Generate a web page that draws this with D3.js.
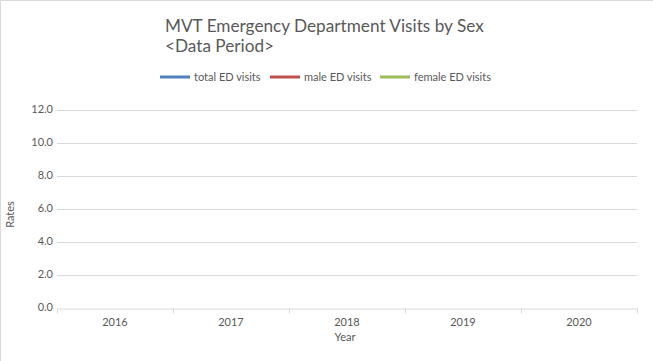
<!DOCTYPE html>
<html><head><meta charset="utf-8">
<script src="https://cdn.jsdelivr.net/npm/d3@7"></script>
<style>
html,body{margin:0;padding:0;background:#fff;}
svg{display:block;font-family:Lato,"Open Sans",sans-serif;}
</style></head>
<body>
<script>
const years = ["2016","2017","2018","2019","2020"];
const totalVisits = [null,null,null,null,null];
const maleVisits = [null,null,null,null,null];
const femaleVisits = [null,null,null,null,null];
const seriesNames = ["total ED visits","male ED visits","female ED visits"];
const seriesColors = ["#4F81BD","#C0504D","#9BBB59"];
const yTicks = [0,2,4,6,8,10,12];

(function(){
const W=653,H=361;
const svg=d3.select("body").append("svg").attr("width",W).attr("height",H);
svg.append("rect").attr("width",W).attr("height",H).attr("fill","#fff");
svg.append("path").attr("d",`M0.5,${H} V0.5 H${W}`).attr("fill","none").attr("stroke","#d9d9d9");

const pL=57,pR=637,pT=109.5,pB=307.5;
const x=d3.scaleBand().domain(years).range([pL,pR]);
const y=d3.scaleLinear().domain([0,12]).range([pB,pT]);

// title
const t=svg.append("text").attr("fill","#595959").attr("font-size",17.2);
t.append("tspan").attr("x",165).attr("y",32).text("MVT Emergency Department Visits by Sex");
t.append("tspan").attr("x",165).attr("y",52).text("<Data Period>");

// legend
const legX=[160,270,380];
seriesNames.forEach((n,i)=>{
  svg.append("line").attr("x1",legX[i]).attr("x2",legX[i]+30).attr("y1",77).attr("y2",77)
    .attr("stroke",seriesColors[i]).attr("stroke-width",3);
  svg.append("text").attr("x",legX[i]+34).attr("y",81).attr("font-size",11).attr("fill","#595959").text(n);
});

// grid
svg.append("g").selectAll("line").data(yTicks.filter(d=>d>0)).join("line")
  .attr("x1",pL).attr("x2",pR).attr("y1",d=>Math.round(y(d))+0.5).attr("y2",d=>Math.round(y(d))+0.5)
  .attr("stroke","#d9d9d9");

// y axis labels
const ya=svg.append("g").attr("transform",`translate(${pL},-0.5)`)
  .call(d3.axisLeft(y).tickValues(yTicks).tickFormat(d3.format(".1f")).tickSize(0).tickPadding(4));
ya.select(".domain").remove();
ya.selectAll("text").attr("fill","#595959").attr("font-size",11).attr("font-family","Lato,sans-serif");

// x axis
const xa=svg.append("g").attr("transform",`translate(0,${Math.round(pB)+0.5})`)
  .call(d3.axisBottom(x).tickSize(0).tickPadding(10));
xa.select(".domain").attr("stroke","#d9d9d9");
xa.selectAll("text").attr("fill","#595959").attr("font-size",11).attr("font-family","Lato,sans-serif");
const bounds=years.map(d=>x(d)).concat([pR]);
svg.append("g").selectAll("line").data(bounds).join("line")
  .attr("x1",d=>Math.round(d)+0.5).attr("x2",d=>Math.round(d)+0.5)
  .attr("y1",Math.round(pB)+0.5).attr("y2",Math.round(pB)+5.5).attr("stroke","#d9d9d9");

// axis titles
svg.append("text").attr("x",(pL+pR)/2-2).attr("y",341).attr("text-anchor","middle")
  .attr("font-size",11).attr("fill","#595959").text("Year");
svg.append("text").attr("transform",`translate(14,${(pT+pB)/2+6}) rotate(-90)`).attr("text-anchor","middle")
  .attr("font-size",11).attr("fill","#595959").text("Rates");

// series lines (no data)
const line=d3.line().defined(d=>d.v!=null).x(d=>x(d.k)+x.bandwidth()/2).y(d=>y(d.v));
[totalVisits,maleVisits,femaleVisits].forEach((s,i)=>{
  svg.append("path").datum(years.map((k,j)=>({k,v:s[j]}))).attr("d",line)
    .attr("fill","none").attr("stroke",seriesColors[i]).attr("stroke-width",2.25);
});
})();
</script>
</body></html>
